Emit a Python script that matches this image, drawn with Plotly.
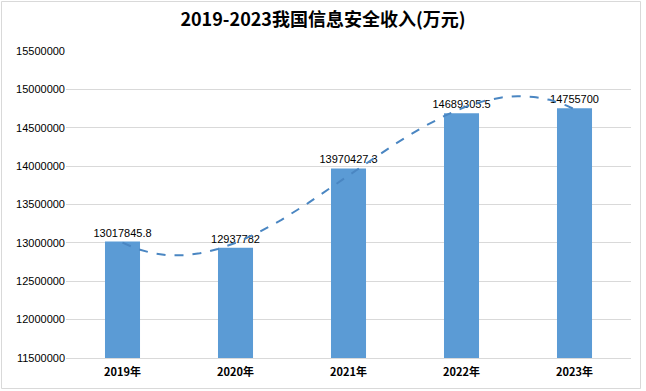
import numpy as np
import plotly.graph_objects as go

years = ["2019年", "2020年", "2021年", "2022年", "2023年"]
revenue = [13017845.8, 12937782, 13970427.3, 14689305.5, 14755700]
labels = ["13017845.8", "12937782", "13970427.3", "14689305.5", "14755700"]
y_ticks = [11500000, 12000000, 12500000, 13000000, 13500000, 14000000, 14500000, 15000000, 15500000]

xpos = list(range(len(years)))

# Excel-style polynomial (order 3) trendline fitted to the data
coef = np.polyfit(xpos, revenue, 3)
xs = np.linspace(0, len(years) - 1, 200)
ys = np.polyval(coef, xs)

fig = go.Figure()
fig.add_trace(go.Bar(
    x=xpos, y=revenue, width=0.31,
    marker=dict(color="#5b9bd5", line=dict(width=0)),
    text=labels, textposition="outside", constraintext="none",
    textfont=dict(family="Liberation Sans, Arial", size=11, color="#000000"),
    cliponaxis=False, showlegend=False, hoverinfo="skip",
))
fig.add_trace(go.Scatter(
    x=xs, y=ys, mode="lines",
    line=dict(color="#4a86c2", width=2, dash="dash"),
    showlegend=False, hoverinfo="skip",
))

W, H = 646, 391
ml, mr, mt, mb = 66, 15, 51, 33
pw, ph = W - ml - mr, H - mt - mb

fig.update_layout(
    width=W, height=H,
    margin=dict(l=ml, r=mr, t=mt, b=mb),
    paper_bgcolor="#ffffff", plot_bgcolor="#ffffff",
    title=dict(text="<b>2019-2023我国信息安全收入(万元)</b>", x=0.5, xanchor="center",
               y=1 - 20 / H, yanchor="middle",
               font=dict(family="Noto Sans CJK SC, sans-serif", size=18, color="#000000")),
    xaxis=dict(range=[-0.5, len(years) - 0.5], tickvals=xpos, ticktext=["<b>%s</b>" % y for y in years],
               showgrid=False, zeroline=False, showline=True, linecolor="#d9d9d9", linewidth=1,
               ticks="", automargin=False, ticklabelstandoff=4,
               tickfont=dict(family="Noto Sans CJK SC, sans-serif", size=11, color="#000000")),
    yaxis=dict(range=[y_ticks[0], y_ticks[-1]], tickvals=y_ticks, tickformat="d",
               showgrid=True, gridcolor="#d9d9d9", gridwidth=1, zeroline=False, showline=False,
               ticks="", automargin=False,
               tickfont=dict(family="Liberation Sans, Arial", size=11, color="#000000")),
    shapes=[dict(type="rect", xref="paper", yref="paper",
                 x0=-(ml - 1.5) / pw, x1=(pw + mr - 5.5) / pw,
                 y0=-(mb - 2.5) / ph, y1=(ph + mt - 1.5) / ph,
                 line=dict(color="#d9d9d9", width=1), fillcolor="rgba(0,0,0,0)", layer="below")],
)

fig.write_html("out.html", config={"displayModeBar": False},
               post_script="document.body.style.margin='0';document.body.style.overflow='hidden';")
